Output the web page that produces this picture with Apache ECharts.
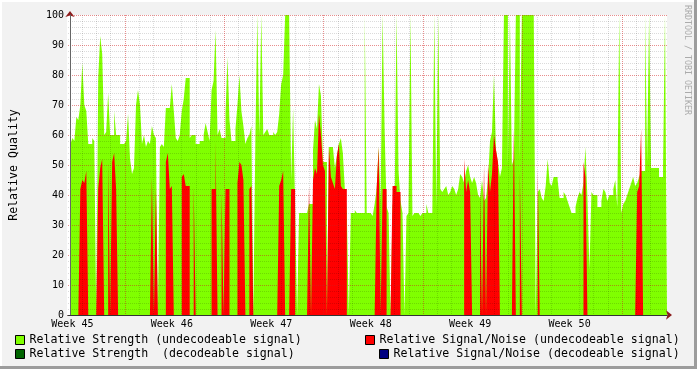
<!DOCTYPE html>
<html><head><meta charset="utf-8">
<script src="https://cdn.jsdelivr.net/npm/echarts@6/dist/echarts.min.js"></script>
<style>html,body{margin:0;padding:0;background:#f2f2f2}#c{width:697px;height:369px}</style>
</head><body><div id="c"></div>
<script>
// ---- data ----
const WEEK_LABELS = ['Week 45', 'Week 46', 'Week 47', 'Week 48', 'Week 49', 'Week 50'];
const NAME_STRENGTH_UNDEC = 'Relative Strength (undecodeable signal)';
const NAME_STRENGTH_DEC = 'Relative Strength  (decodeable signal)';
const NAME_SNR_UNDEC = 'Relative Signal/Noise (undecodeable signal)';
const NAME_SNR_DEC = 'Relative Signal/Noise (decodeable signal)';
// sample times: hours from the first midnight shown, one sample every 3.36 h
const SAMPLE_START_H = 4.03;
const SAMPLE_STEP_H = 3.36;
const strengthUndecodeable = [
57,59,58,66,65,70,84,70,68,57,
57,59,58,0,79,93,87,60,61,74,
60,60,68,60,60,57,57,57,58,67,
52,47,49,70,75,70,57,60,56,58,
57,63,60,59,0,56,57,56,69,69,
69,77,68,59,58,60,68,72,79,79,
59,60,60,57,57,58,58,60,64,61,
58,75,78,95,60,62,59,59,67,86,
65,58,58,62,70,80,68,63,57,59,
60,63,0,58,100,60,100,60,61,62,
60,60,61,60,61,67,77,80,100,100,
100,45,69,36,0,34,34,34,34,34,
37,37,55,65,62,77,73,51,51,0,
56,56,56,49,53,57,59,54,42,34,
0,34,34,35,34,34,34,34,100,34,
34,34,33,37,42,56,38,100,62,36,
34,0,37,35,100,48,38,34,0,33,
34,100,33,34,34,34,33,34,34,37,
34,34,34,100,36,100,42,41,42,43,
40,41,43,42,40,42,47,46,44,48,
50,46,44,46,44,40,39,45,38,39,
45,58,61,80,55,51,46,49,100,100,
50,100,50,52,100,100,52,100,100,100,
100,100,100,100,0,41,42,39,38,43,
52,44,43,46,46,45,39,39,41,40,
38,36,34,34,36,39,41,40,44,56,
39,15,41,40,40,36,36,38,42,41,
38,40,40,42,45,36,100,34,37,38,
40,42,44,46,43,44,46,48,48,100,
51,100,49,49,49,49,46,46,49,100
];
const snrUndecodeable = [
0,0,0,0,0,42,45,44,48,0,
0,0,0,0,42,49,52,0,0,51,
0,51,54,42,0,0,0,0,0,0,
0,0,0,0,0,0,0,0,0,0,
0,46,0,42,0,0,0,0,51,54,
42,43,0,0,0,0,46,47,43,43,
0,0,43,0,0,0,0,0,0,0,
0,42,42,58,0,0,41,0,42,42,
0,0,0,0,44,51,50,45,0,0,
42,43,0,0,0,0,0,0,0,0,
0,0,0,0,0,43,45,48,0,0,
0,42,42,0,0,0,0,0,0,0,
43,0,45,49,47,67,60,50,48,0,
56,46,44,42,53,57,43,42,42,0,
0,0,0,0,0,0,0,0,0,0,
0,0,0,0,42,56,0,42,42,0,
0,0,43,43,41,41,0,0,0,0,
0,0,0,0,0,0,0,0,0,0,
0,0,0,0,0,0,0,0,0,0,
0,0,0,0,0,0,0,0,52,41,
45,41,0,0,0,0,41,0,50,0,
50,41,47,60,55,51,0,0,0,0,
0,0,0,62,0,0,48,0,0,0,
0,0,0,0,0,49,0,0,0,0,
0,0,0,0,0,0,0,0,0,0,
0,0,0,0,0,0,0,0,51,46,
0,0,0,0,0,0,0,0,0,0,
0,0,0,0,0,0,0,0,0,0,
0,0,0,0,0,41,43,62,0,0,
0,0,0,0,0,0,0,0,0,0
];
const strengthDecodeable = [];
const snrDecodeable = [];

// ---- build: each sample holds its value until the next sample (rrdtool AREA) ----
function toSteps(vals) {
  const d = [];
  vals.forEach((v, i) => {
    d.push([SAMPLE_START_H + i * SAMPLE_STEP_H, v]);
    d.push([SAMPLE_START_H + (i + 1) * SAMPLE_STEP_H, v]);
  });
  return d;
}
const T_END = SAMPLE_START_H + strengthUndecodeable.length * SAMPLE_STEP_H;
const FONT = 'DejaVu Sans Mono';
const MINOR = 'rgba(0,0,0,0.14)';
const MAJOR = 'rgba(210,30,30,0.5)';
const ARROW = '#8b1c1c';

function areaSeries(name, color, vals) {
  return {
    name, type: 'line', symbol: 'none', data: toSteps(vals), sampling: null,
    color, itemStyle: { color },
    lineStyle: { width: 0, opacity: 0 },
    areaStyle: { color, opacity: 1 },
    z: 2
  };
}
function legendAt(name, left, top) {
  return {
    data: [name], left, top, padding: 0, icon: 'rect', itemWidth: 9, itemHeight: 9,
    selectedMode: false, itemStyle: { borderColor: '#000', borderWidth: 1 },
    textStyle: { fontFamily: FONT, fontSize: 11.6, color: '#000' }
  };
}
const hidden = { axisTick: { show: false }, axisLabel: { show: false }, splitLine: { show: false } };

const chart = echarts.init(document.getElementById('c'), null, { renderer: 'canvas' });
chart.setOption({
  backgroundColor: '#f2f2f2',
  animation: false,
  grid: { left: 64.6, top: 15, width: 602.4, height: 300 },
  xAxis: [{
    type: 'value', min: 0, max: T_END, interval: 24, z: 4,
    axisLine: { show: true, lineStyle: { color: '#333', width: 1 } },
    axisTick: { show: false },
    axisLabel: {
      fontFamily: FONT, fontSize: 10, color: '#000', margin: 4, padding: [0, 0, 0, 8.8],
      showMaxLabel: false,
      formatter: v => {
        if (Math.abs(v % 168) > 1e-6) return '';
        const k = Math.round(v / 168);
        return WEEK_LABELS[k] || '';
      }
    },
    splitLine: { show: true, showMaxLine: false,
      lineStyle: { color: ['rgba(0,0,0,0)', MINOR, MINOR, MINOR, MAJOR, MINOR, MINOR], type: [1, 1], width: 1 } }
  }, Object.assign({
    type: 'value', min: 0, max: T_END, position: 'bottom', z: 3,
    axisLine: { show: true, lineStyle: { color: ARROW, width: 1 }, symbol: ['none', 'arrow'], symbolSize: [7, 6], symbolOffset: [0, 5] }
  }, hidden)],
  yAxis: [{
    type: 'value', min: 0, max: 100, interval: 10, offset: -2, z: 4,
    name: 'Relative Quality', nameLocation: 'middle', nameGap: 50, nameRotate: 90,
    nameTextStyle: { fontFamily: FONT, fontSize: 11.6, color: '#000' },
    axisLine: { show: true, lineStyle: { color: '#666', width: 1 } },
    axisTick: { show: false },
    axisLabel: { fontFamily: FONT, fontSize: 10, color: '#000', margin: 6 },
    splitLine: { show: true, lineStyle: { color: MAJOR, type: [1, 1], width: 1 } },
    minorTick: { show: false, splitNumber: 5 },
    minorSplitLine: { show: true, lineStyle: { color: MINOR, type: [1, 1], width: 1 } }
  }, Object.assign({
    type: 'value', min: 0, max: 100, position: 'left', offset: -2, z: 3,
    axisLine: { show: true, lineStyle: { color: ARROW, width: 1 }, symbol: ['none', 'arrow'], symbolSize: [7, 6], symbolOffset: [0, 4] }
  }, hidden)],
  legend: [
    legendAt(NAME_STRENGTH_UNDEC, 15, 334),
    legendAt(NAME_STRENGTH_DEC, 15, 348),
    legendAt(NAME_SNR_UNDEC, 365, 334),
    legendAt(NAME_SNR_DEC, 379, 348)
  ],
  graphic: [
    { type: 'rect', shape: { x: 67, y: 15, width: 600, height: 300 }, style: { fill: '#ffffff' }, z: -1, silent: true },
    { type: 'rect', shape: { x: 0, y: 0, width: 697, height: 2 }, style: { fill: '#ffffff' }, silent: true },
    { type: 'rect', shape: { x: 0, y: 0, width: 2, height: 369 }, style: { fill: '#ffffff' }, silent: true },
    { type: 'rect', shape: { x: 0, y: 366, width: 697, height: 3 }, style: { fill: '#9c9c9c' }, silent: true },
    { type: 'rect', shape: { x: 694, y: 0, width: 3, height: 369 }, style: { fill: '#9c9c9c' }, silent: true },
    { type: 'text', x: 687.5, y: 5, rotation: -Math.PI / 2, silent: true,
      style: { text: 'RRDTOOL / TOBI OETIKER', font: '8.3px "DejaVu Sans Mono"', fill: '#ababab', align: 'left', verticalAlign: 'middle' } }
  ],
  series: [
    areaSeries(NAME_STRENGTH_UNDEC, '#80ff00', strengthUndecodeable),
    areaSeries(NAME_STRENGTH_DEC, '#006400', strengthDecodeable),
    areaSeries(NAME_SNR_UNDEC, '#ff0000', snrUndecodeable),
    areaSeries(NAME_SNR_DEC, '#000080', snrDecodeable)
  ]
});
</script></body></html>
